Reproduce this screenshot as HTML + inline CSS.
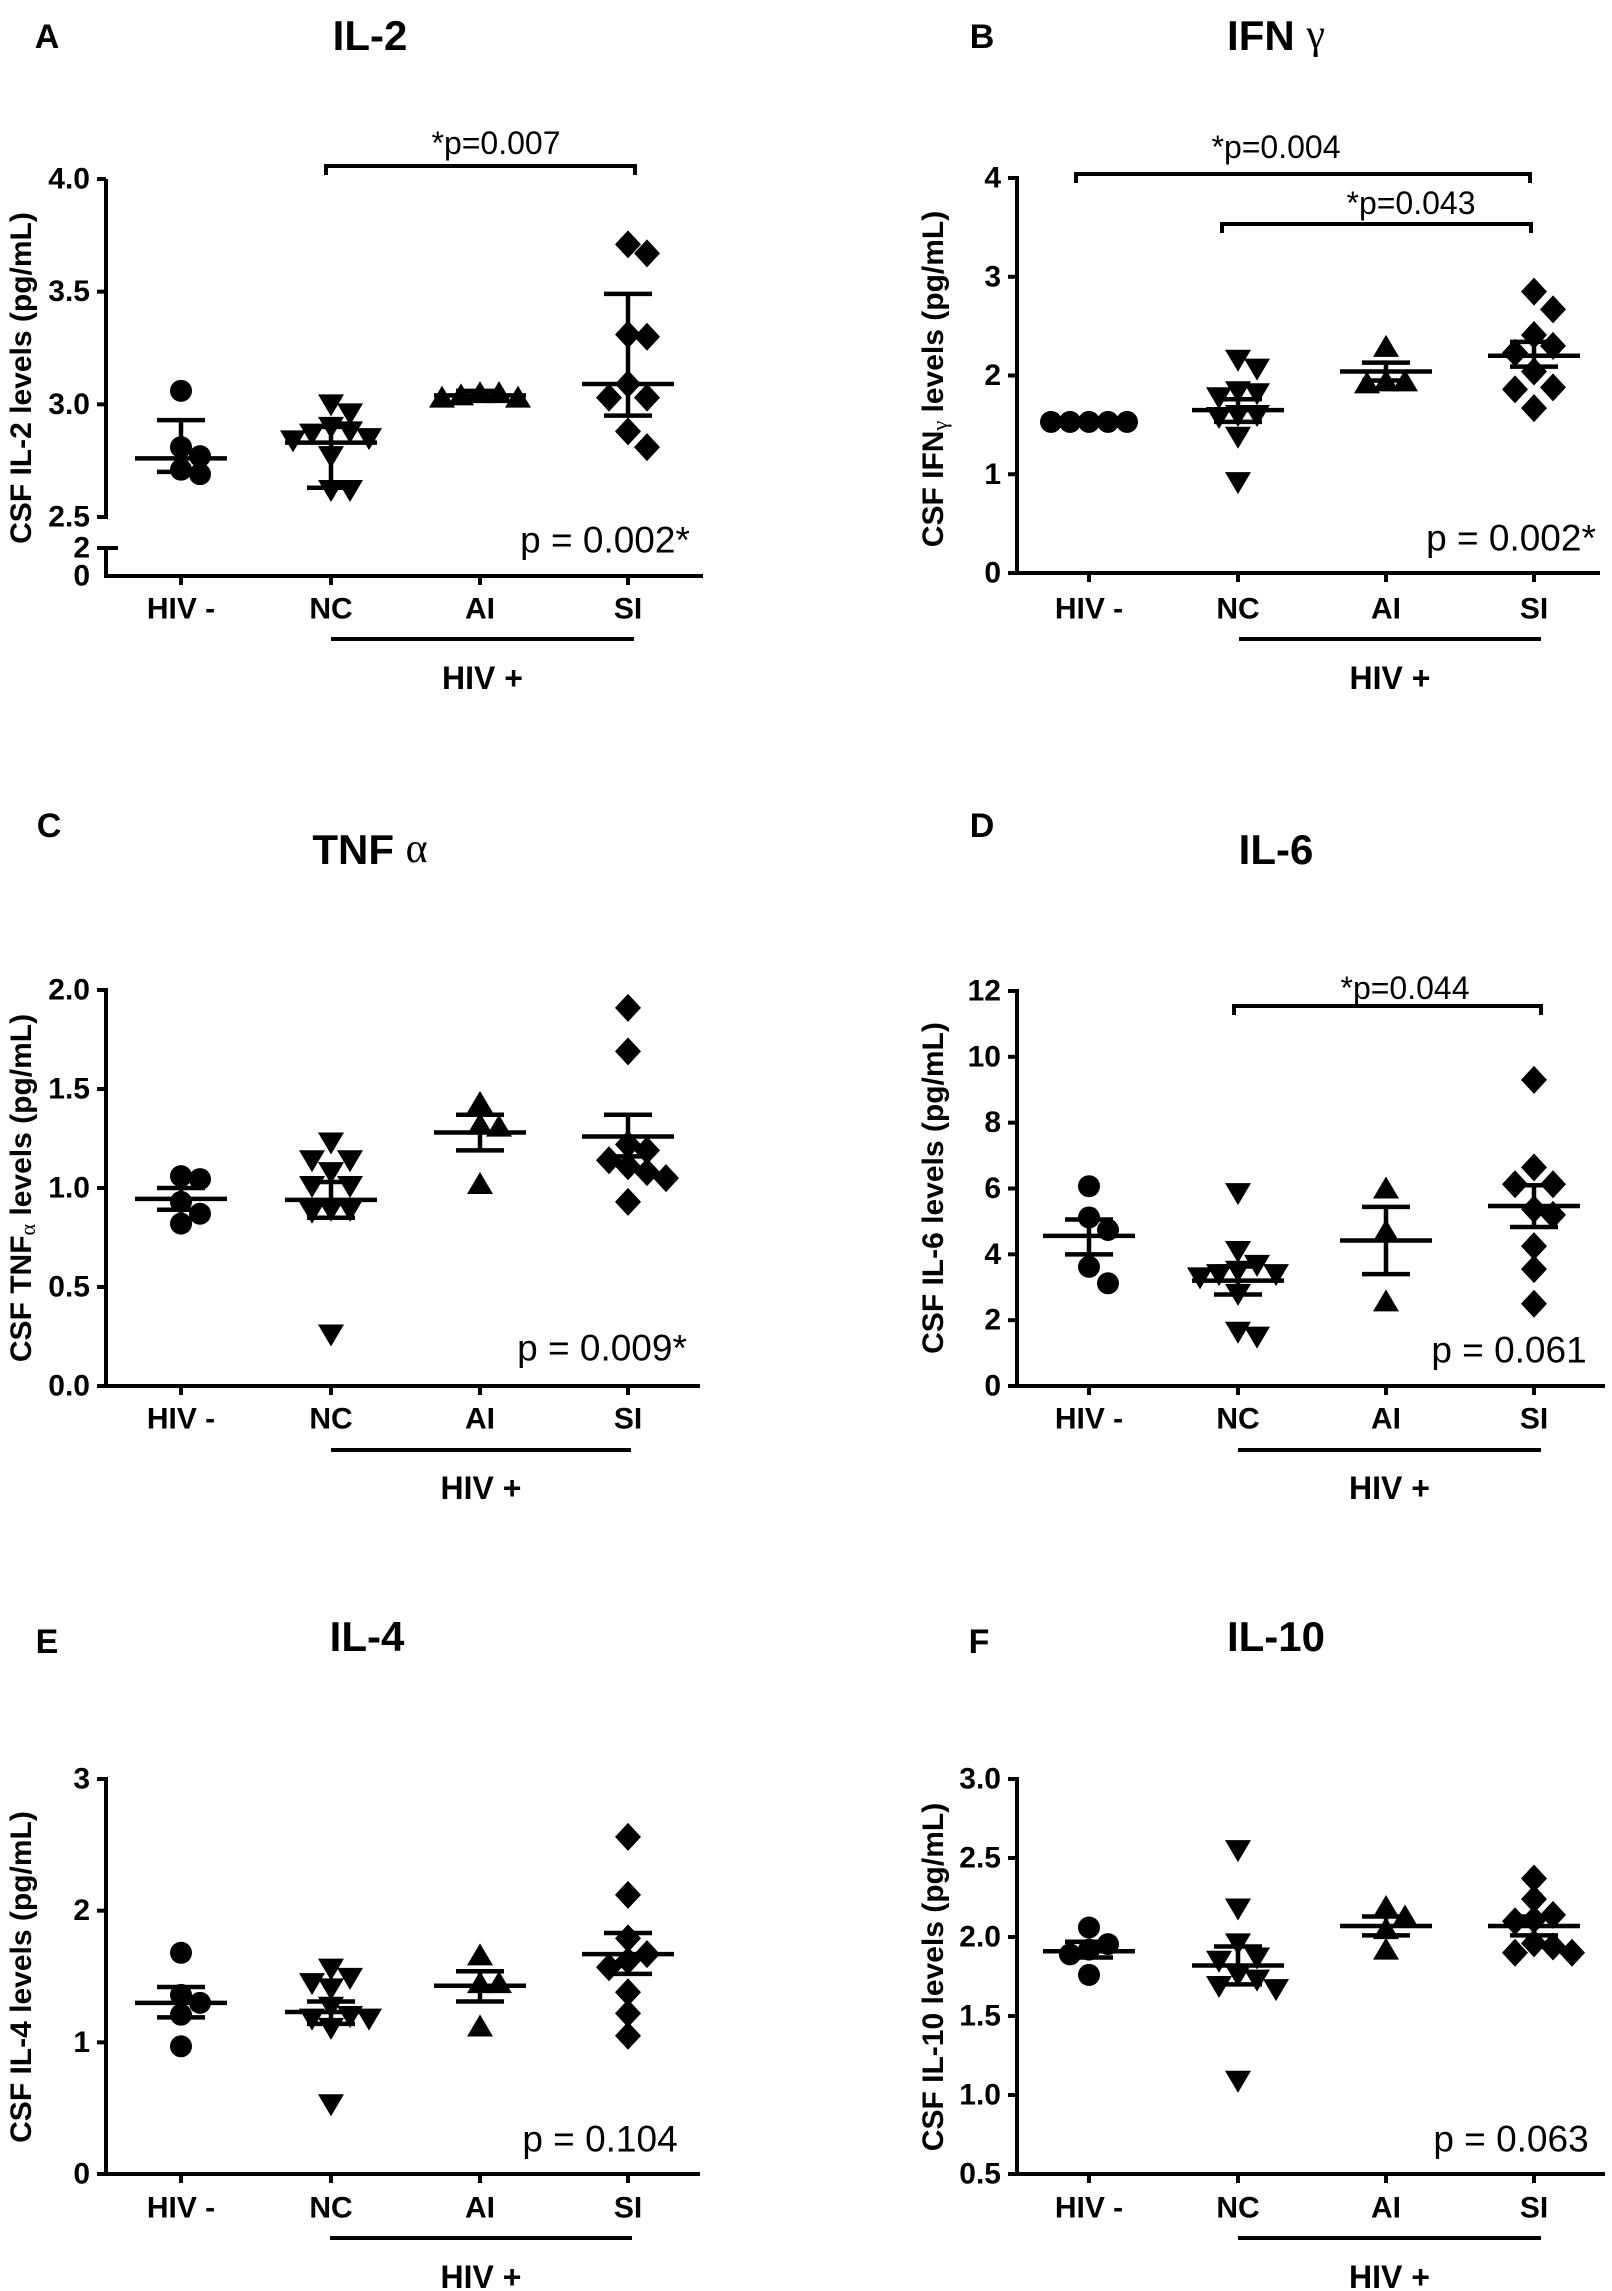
<!DOCTYPE html>
<html><head><meta charset="utf-8"><style>
html,body{margin:0;padding:0;background:#fff}
svg{display:block}
text{font-family:"Liberation Sans",Arial,sans-serif;fill:#000}
</style></head><body>
<svg id="fig" width="1612" height="2291" viewBox="0 0 1612 2291" xmlns="http://www.w3.org/2000/svg"></svg>
<script>
const categories=["HIV -","NC","AI","SI"];
const shapes=["circle","tridown","triup","diamond"];
// IL-2
const il2Values=[[3.06,2.81,2.77,2.71,2.69],[3.00,2.96,2.90,2.88,2.87,2.85,2.84,2.77,2.62,2.62],[3.05,3.04,3.03,3.03,3.05],[3.71,3.67,3.31,3.30,3.09,3.03,3.03,2.88,2.81]];
const il2Center=[2.76,2.83,3.04,3.09];
const il2Upper=[2.93,2.90,3.06,3.49];
const il2Lower=[2.70,2.63,3.03,2.95];
const il2Ticks=[2.5,3.0,3.5,4.0];
const il2TickLabels=["2.5","3.0","3.5","4.0"];
// IFN gamma
const ifnValues=[[1.53,1.53,1.53,1.53,1.53],[2.16,2.07,1.84,1.82,1.78,1.60,1.60,1.58,1.38,0.92],[2.29,1.94,1.94,1.92],[2.85,2.67,2.41,2.30,2.23,2.04,1.88,1.86,1.67]];
const ifnCenter=[1.53,1.65,2.04,2.20];
const ifnUpper=[1.54,1.76,2.13,2.34];
const ifnLower=[1.52,1.53,1.95,2.09];
const ifnTicks=[0,1,2,3,4];
const ifnTickLabels=["0","1","2","3","4"];
// TNF alpha
const tnfValues=[[1.06,1.045,0.93,0.87,0.82],[1.23,1.14,1.14,1.08,1.01,1.01,0.89,0.88,0.89,0.26],[1.43,1.32,1.31,1.02],[1.91,1.69,1.22,1.19,1.14,1.11,1.08,1.05,0.93]];
const tnfCenter=[0.945,0.94,1.28,1.26];
const tnfUpper=[1.0,1.03,1.37,1.37];
const tnfLower=[0.89,0.85,1.19,1.16];
const tnfTicks=[0,0.5,1,1.5,2];
const tnfTickLabels=["0.0","0.5","1.0","1.5","2.0"];
// IL-6
const il6Values=[[6.07,5.12,4.74,3.62,3.12],[5.86,4.1,3.68,3.5,3.4,3.4,3.3,2.8,1.65,1.5],[6.0,4.7,2.57],[9.3,6.64,6.13,6.13,5.37,5.2,4.25,3.55,2.5]];
const il6Center=[4.56,3.2,4.42,5.47];
const il6Upper=[5.06,3.63,5.44,6.1];
const il6Lower=[4.0,2.78,3.4,4.83];
const il6Ticks=[0,2,4,6,8,10,12];
const il6TickLabels=["0","2","4","6","8","10","12"];
// IL-4
const il4Values=[[1.68,1.36,1.30,1.21,0.97],[1.56,1.49,1.41,1.45,1.27,1.18,1.18,1.20,1.11,0.53],[1.66,1.45,1.45,1.12],[2.56,2.12,1.79,1.67,1.62,1.57,1.38,1.22,1.05]];
const il4Center=[1.30,1.23,1.43,1.67];
const il4Upper=[1.42,1.31,1.54,1.83];
const il4Lower=[1.19,1.14,1.31,1.52];
const il4Ticks=[0,1,2,3];
const il4TickLabels=["0","1","2","3"];
// IL-10
const il10Values=[[2.06,1.955,1.92,1.89,1.76],[2.55,2.18,1.96,1.87,1.85,1.76,1.73,1.69,1.67,1.09],[2.19,2.13,2.05,1.92],[2.37,2.24,2.10,2.11,2.14,1.94,1.96,1.90,1.90]];
const il10Center=[1.91,1.82,2.07,2.07];
const il10Upper=[1.97,1.94,2.13,2.13];
const il10Lower=[1.87,1.70,2.01,2.01];
const il10Ticks=[0.5,1,1.5,2,2.5,3];
const il10TickLabels=["0.5","1.0","1.5","2.0","2.5","3.0"];

const NS="http://www.w3.org/2000/svg";
const svg=document.getElementById('fig');
function mk(tag,attrs,parent){const e=document.createElementNS(NS,tag);for(const k in attrs)e.setAttribute(k,attrs[k]);(parent||svg).appendChild(e);return e;}
function txt(s,x,y,size,weight,anchor,parent){const t=mk('text',{x:x,y:y,'font-size':size,'font-weight':weight,'text-anchor':anchor,'dominant-baseline':'central'},parent);t.textContent=s;return t;}
function line(x1,y1,x2,y2,w,parent){return mk('line',{x1:x1,y1:y1,x2:x2,y2:y2,stroke:'#000','stroke-width':w},parent);}

function marker(shape,x,y,g){
  let e;
  if(shape==='circle') e=mk('circle',{cx:x,cy:y,r:11},g);
  else if(shape==='tridown') e=mk('polygon',{points:`${x-13},${y-10} ${x+13},${y-10} ${x},${y+12}`},g);
  else if(shape==='triup') e=mk('polygon',{points:`${x-13},${y+10} ${x+13},${y+10} ${x},${y-12}`},g);
  else e=mk('polygon',{points:`${x},${y-14} ${x+13},${y} ${x},${y+14} ${x-13},${y}`},g);
  e.setAttribute('fill','#000');
  return e;
}

function drawPanel(p){
  const g=mk('g',{});
  
  
  const ys=v=>p.y0+(v-p.d0)*(p.y1-p.y0)/(p.d1-p.d0);
  const yScale=p.scale||ys;
  const lt=txt(p.letter,p.letterX,p.letterY,34,'bold','middle',g);
  
  
  const tt=txt('',p.titleX,p.titleY,42,'bold','middle',g);
  
  
  const ts1=mk('tspan',{},tt);ts1.textContent=p.title[0];
  if(p.title[1]){const ts2=mk('tspan',{'font-family':'Liberation Serif, serif','font-weight':'normal'},tt);ts2.textContent=p.title[1];}
  const yt=mk('text',{x:0,y:0,'font-size':30,'font-weight':'bold','text-anchor':'middle','dominant-baseline':'central',transform:`translate(${p.ylabX},${p.ylabY}) rotate(-90)`},g);
  
  
  const a=mk('tspan',{},yt);a.textContent=p.ylab[0];
  if(p.ylab[1]){const b=mk('tspan',{'font-family':'Liberation Serif, serif','font-weight':'normal','font-size':22,dy:6},yt);b.textContent=p.ylab[1];const c=mk('tspan',{dy:-6},yt);c.textContent=p.ylab[2];}
  const ax=p.axisX;
  const yBottom=p.xAxisY;
  if(p.broken){
    line(ax,yScale(p.d1),ax,yScale(p.d0)+2,4,g);
    line(ax,p.lowTop-2,ax,yBottom+2,4,g);
    line(ax-9,p.lowTop,ax+12,p.lowTop,4,g);
    const l2=txt('2',ax-16,p.lowTop,30,'bold','end',g);
    
    
    const l0=txt('0',ax-16,yBottom,30,'bold','end',g);
    
    
  } else {
    line(ax,yScale(p.d1)-2,ax,yBottom+2,4,g);
  }
  const yl=line(ax-2,yBottom,p.xEnd,yBottom,4,g);
  
  
  p.ticks.forEach((t,i)=>{
    const y=yScale(t);
    line(ax-9,y,ax,y,4,g);
    const lb=txt(p.tickLabels[i],ax-16,y,30,'bold','end',g);
    
    
  });
  categories.forEach((c,i)=>{
    const x=p.catX[i];
    line(x,yBottom,x,yBottom+9,4,g);
    const lb=txt(c,x,p.catY,30,'bold','middle',g);
    
    
  });
  const hb=line(p.hivBar[0],p.hivBarY,p.hivBar[1],p.hivBarY,4,g);
  
  
  const ht=txt('HIV +',(p.hivBar[0]+p.hivBar[1])/2,p.hivTextY,32,'bold','middle',g);
  
  
  p.values.forEach((vals,i)=>{
    const cx=p.catX[i];
    const grp=mk('g',{},g);
    
    
    const placed=[];const s=19;
    const order=vals.map((v,k)=>k).sort((m,n)=>vals[n]-vals[m]);
    order.forEach(k=>{
      const y=yScale(vals[k]);
      let off=0;
      for(let j=0;j<20;j++){
        off=(j===0)?0:((j%2)?1:-1)*Math.ceil(j/2)*s;
        if(!placed.some(q=>Math.abs(q.x-off)<s*0.9&&Math.abs(q.y-y)<18))break;
      }
      placed.push({x:off,y:y});
      const m=marker(shapes[i],cx+off,y,grp);
      
      
    });
    const ym=yScale(p.center[i]),yu=yScale(p.upper[i]),ylw=yScale(p.lower[i]);
    const ml=line(cx-46,ym,cx+46,ym,4.5,g);
    
    
    const eb=line(cx,yu,cx,ylw,4.5,g);
    
    
    line(cx-24,yu,cx+24,yu,4.5,g);
    line(cx-24,ylw,cx+24,ylw,4.5,g);
  });
  (p.brackets||[]).forEach(b=>{
    const bg=mk('g',{},g);
    
    
    mk('polyline',{points:`${b.x1},${b.y+9} ${b.x1},${b.y} ${b.x2},${b.y} ${b.x2},${b.y+9}`,fill:'none',stroke:'#000','stroke-width':4},bg);
    txt(b.label,b.tx,b.ty,32,'normal','middle',bg);
  });
  const pt=txt(p.pText,p.pX,p.pY,37,'normal','middle',g);
  
  
}

const leftCats=[181,331,480,628], rightCats=[1089,1238,1386,1534];

drawPanel({name:'il2',letter:'A',letterX:47,letterY:37,title:['IL-2'],titleX:370,titleY:35,
  ylab:['CSF IL-2 levels (pg/mL)'],ylabX:21,ylabY:378,axisX:106,xEnd:703,xAxisY:576,
  broken:true,lowTop:548,d0:2.5,d1:4.0,y0:517,y1:179,ticks:il2Ticks,tickLabels:il2TickLabels,
  catX:leftCats,catY:609,hivBar:[331,634],hivBarY:639,hivTextY:678,
  values:il2Values,center:il2Center,upper:il2Upper,lower:il2Lower,
  brackets:[{x1:326,x2:635,y:166,label:'*p=0.007',tx:496,ty:143}],
  pText:'p = 0.002*',pX:605,pY:540});

drawPanel({name:'ifn-gamma',letter:'B',letterX:982,letterY:37,title:['IFN ','γ'],titleX:1276,titleY:35,
  ylab:['CSF IFN','γ',' levels (pg/mL)'],ylabX:933,ylabY:379,axisX:1017,xEnd:1600,xAxisY:573,
  d0:0,d1:4,y0:573,y1:178,ticks:ifnTicks,tickLabels:ifnTickLabels,
  catX:rightCats,catY:609,hivBar:[1239,1541],hivBarY:639,hivTextY:678,
  values:ifnValues,center:ifnCenter,upper:ifnUpper,lower:ifnLower,
  brackets:[{x1:1076,x2:1530,y:174,label:'*p=0.004',tx:1276,ty:147},{x1:1222,x2:1531,y:224,label:'*p=0.043',tx:1411,ty:203}],
  pText:'p = 0.002*',pX:1511,pY:538});

drawPanel({name:'tnf-alpha',letter:'C',letterX:49,letterY:826,title:['TNF ','α'],titleX:370,titleY:849,
  ylab:['CSF TNF','α',' levels (pg/mL)'],ylabX:21,ylabY:1188,axisX:106,xEnd:700,xAxisY:1386,
  d0:0,d1:2,y0:1386,y1:990,ticks:tnfTicks,tickLabels:tnfTickLabels,
  catX:leftCats,catY:1419,hivBar:[331,631],hivBarY:1450,hivTextY:1488,
  values:tnfValues,center:tnfCenter,upper:tnfUpper,lower:tnfLower,
  pText:'p = 0.009*',pX:602,pY:1348});

drawPanel({name:'il6',letter:'D',letterX:982,letterY:826,title:['IL-6'],titleX:1276,titleY:849,
  ylab:['CSF IL-6 levels (pg/mL)'],ylabX:933,ylabY:1188,axisX:1017,xEnd:1605,xAxisY:1386,
  d0:0,d1:12,y0:1386,y1:991,ticks:il6Ticks,tickLabels:il6TickLabels,
  catX:rightCats,catY:1419,hivBar:[1238,1541],hivBarY:1450,hivTextY:1488,
  values:il6Values,center:il6Center,upper:il6Upper,lower:il6Lower,
  brackets:[{x1:1234,x2:1541,y:1006,label:'*p=0.044',tx:1405,ty:988}],
  pText:'p = 0.061',pX:1509,pY:1350});

drawPanel({name:'il4',letter:'E',letterX:47,letterY:1642,title:['IL-4'],titleX:367,titleY:1636,
  ylab:['CSF IL-4 levels (pg/mL)'],ylabX:21,ylabY:1977,axisX:106,xEnd:700,xAxisY:2174,
  d0:0,d1:3,y0:2174,y1:1779,ticks:il4Ticks,tickLabels:il4TickLabels,
  catX:leftCats,catY:2208,hivBar:[330,632],hivBarY:2238,hivTextY:2277,
  values:il4Values,center:il4Center,upper:il4Upper,lower:il4Lower,
  pText:'p = 0.104',pX:600,pY:2139});

drawPanel({name:'il10',letter:'F',letterX:979,letterY:1642,title:['IL-10'],titleX:1276,titleY:1636,
  ylab:['CSF IL-10 levels (pg/mL)'],ylabX:933,ylabY:1977,axisX:1017,xEnd:1605,xAxisY:2174,
  d0:0.5,d1:3,y0:2174,y1:1779,ticks:il10Ticks,tickLabels:il10TickLabels,
  catX:rightCats,catY:2208,hivBar:[1238,1541],hivBarY:2238,hivTextY:2277,
  values:il10Values,center:il10Center,upper:il10Upper,lower:il10Lower,
  pText:'p = 0.063',pX:1511,pY:2139});
</script>
</body></html>
